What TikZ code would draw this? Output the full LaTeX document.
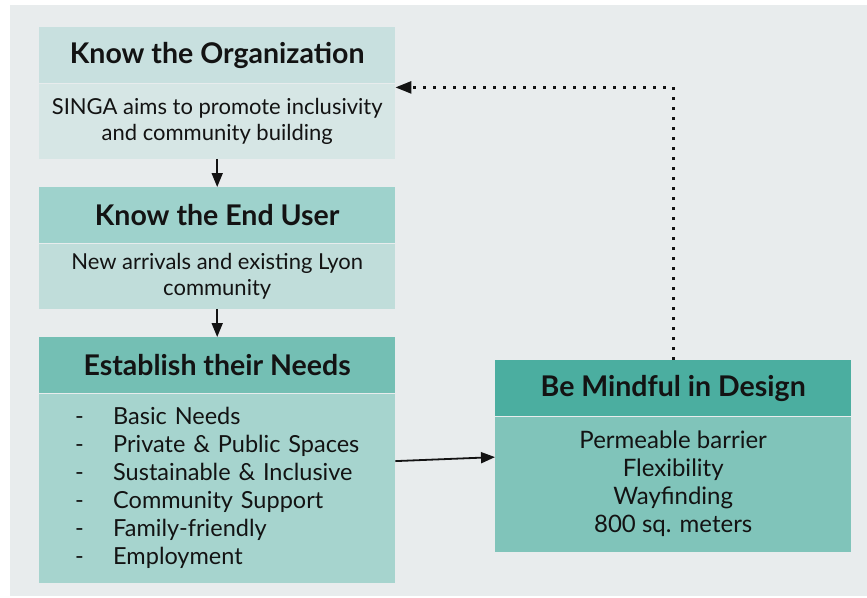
\documentclass[tikz,border=0pt]{standalone}
\usepackage{fontspec}
\setmainfont{Lato}
\usepackage{xcolor}
\usepackage{tikz}
\usetikzlibrary{arrows.meta,positioning}

\definecolor{bggray}{HTML}{E8ECED}
\definecolor{orghead}{HTML}{C8E0DF}
\definecolor{orgbody}{HTML}{D6E6E5}
\definecolor{userhead}{HTML}{9ED2CC}
\definecolor{userbody}{HTML}{C0DDDA}
\definecolor{needshead}{HTML}{74BFB4}
\definecolor{needsbody}{HTML}{A6D4CE}
\definecolor{designhead}{HTML}{4BAEA0}
\definecolor{designbody}{HTML}{80C4BA}
\definecolor{ink}{HTML}{131313}

% one dash-led line of a list
\newcommand{\needitem}[1]{\mbox{\makebox[38pt][l]{-}#1}}

\tikzset{
  headbox/.style={minimum width=356pt, minimum height=56pt, inner sep=0pt,
    text=ink, font=\fontsize{28.5}{32}\selectfont\bfseries},
  bodybox/.style={minimum width=356pt, inner sep=0pt, align=center,
    text=ink, font=\fontsize{22}{26}\selectfont},
  flow/.style={-{Triangle[length=14pt,width=11pt]}, line width=1.8pt, draw=ink},
  backlink/.style={-{Triangle[length=16pt,width=12pt]}, line width=2.6pt, draw=ink,
    line cap=butt, dash pattern=on 2.6pt off 7.4pt}
}

\begin{document}
\begin{tikzpicture}[x=1pt, y=-1pt]
\useasboundingbox (0,0) rectangle (867,597);
\fill[bggray] (10,5) rectangle (867,596);

% left column
\node[headbox, fill=orghead, anchor=north west] (orgtitle) at (39,27) {Know the Organization};
\node[bodybox, fill=orgbody, minimum height=75pt, below=0pt of orgtitle] (orgtext)
  {SINGA aims to promote inclusivity\\and community building};

\node[headbox, fill=userhead, anchor=north west] (usertitle) at (39,187) {Know the End User};
\node[bodybox, fill=userbody, minimum height=65pt, below=0pt of usertitle] (usertext)
  {New arrivals and existing Lyon\\community};

\node[headbox, fill=needshead, anchor=north west] (needstitle) at (39,337) {Establish their Needs};
\node[bodybox, fill=needsbody, minimum height=189pt, below=0pt of needstitle,
  text width=284pt, inner xsep=36pt, align=left,
  font=\fontsize{23.5}{28}\selectfont] (needstext)
  {\needitem{Basic Needs}\\
   \needitem{Private \& Public Spaces}\\
   \needitem{Sustainable \& Inclusive}\\
   \needitem{Community Support}\\
   \needitem{Family-friendly}\\
   \needitem{Employment}};

% right box
\node[headbox, fill=designhead, anchor=north west] (designtitle) at (495,360) {Be Mindful in Design};
\node[bodybox, fill=designbody, minimum height=135pt, below=0pt of designtitle,
  font=\fontsize{24}{28}\selectfont] (designtext)
  {Permeable barrier\\Flexibility\\Wayfinding\\800 sq. meters};

% connectors
\draw[flow] (orgtext.south) -- (usertitle.north);
\draw[flow] (usertext.south) -- (needstitle.north);
\draw[flow] ([yshift=27pt]needstext.east) -- ([yshift=27pt]designtext.west);
\draw[backlink] (designtitle.north) |- ([yshift=-4pt]orgtext.north east);
\end{tikzpicture}
\end{document}
